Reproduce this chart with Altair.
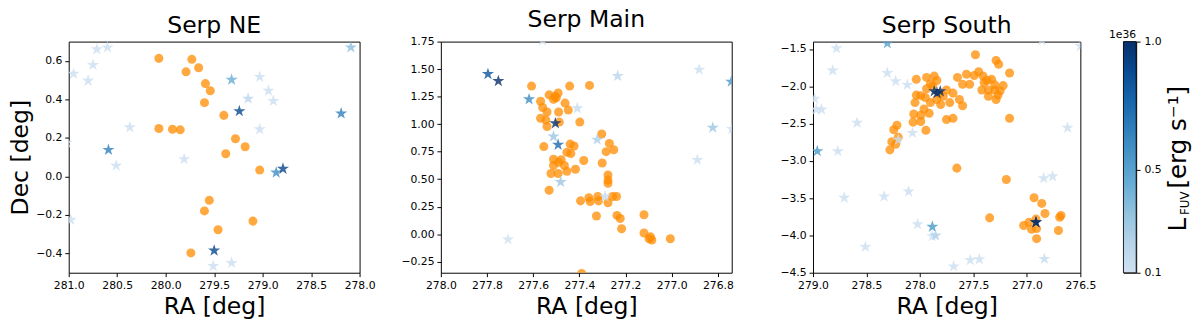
import altair as alt
import pandas as pd

# ---------------- Serp NE ----------------
ne_yso_ra = [280.07, 279.73, 279.66, 279.79, 279.59, 279.54, 279.60, 279.40, 280.07, 279.93,
             279.85, 279.28, 279.18, 279.38, 279.03, 279.55, 279.60, 279.10, 279.46, 279.74]
ne_yso_dec = [0.613, 0.608, 0.564, 0.543, 0.482, 0.445, 0.383, 0.317, 0.249, 0.245,
              0.242, 0.196, 0.154, 0.118, 0.033, -0.124, -0.179, -0.232, -0.277, -0.397]
ne_star_ra = [280.71, 280.60, 280.75, 280.95, 280.80, 278.09, 279.32, 279.03, 278.94, 278.89,
              279.15, 279.24, 278.19, 280.37, 279.03, 281.02, 280.59, 279.81, 280.51, 278.86,
              278.79, 280.98, 279.50, 279.51, 279.32]
ne_star_dec = [0.660, 0.670, 0.579, 0.533, 0.497, 0.670, 0.502, 0.517, 0.445, 0.392,
               0.404, 0.339, 0.327, 0.255, 0.245, 0.175, 0.138, 0.090, 0.056, 0.020,
               0.040, -0.225, -0.385, -0.465, -0.449]
ne_star_lfuv = [0.12, 0.12, 0.12, 0.12, 0.12, 0.35, 0.45, 0.12, 0.12, 0.12,
                0.2, 0.9, 0.65, 0.12, 0.12, 0.12, 0.65, 0.12, 0.12, 0.6,
                0.9, 0.12, 0.9, 0.12, 0.12]

# ---------------- Serp Main ----------------
main_yso_ra = [277.607, 277.442, 277.356, 277.531, 277.506, 277.492, 277.512, 277.500, 277.568, 277.559,
               277.462, 277.540, 277.490, 277.448, 277.568, 277.545, 277.540, 277.487, 277.398, 277.303,
               277.270, 277.251, 277.284, 277.554, 277.440, 277.423, 277.454, 277.437, 277.512, 277.490,
               277.479, 277.465, 277.512, 277.523, 277.492, 277.454, 277.417, 277.381, 277.301, 277.276,
               277.276, 277.531, 277.395, 277.359, 277.353, 277.320, 277.317, 277.256, 277.239, 277.276,
               277.326, 277.237, 277.223, 277.217, 277.120, 277.120, 277.098, 277.086, 277.092, 277.006,
               277.390, 277.276]
main_yso_dec = [1.346, 1.346, 1.352, 1.266, 1.254, 1.283, 1.226, 1.240, 1.208, 1.151,
                1.191, 1.111, 1.111, 1.128, 1.054, 1.037, 0.979, 1.019, 1.019, 0.910,
                0.825, 0.767, 0.750, 0.796, 0.819, 0.802, 0.744, 0.733, 0.681, 0.653,
                0.676, 0.624, 0.624, 0.552, 0.552, 0.572, 0.590, 0.670, 0.647, 0.538,
                0.492, 0.400, 0.303, 0.332, 0.297, 0.343, 0.303, 0.343, 0.343, 0.286,
                0.166, 0.171, 0.143, 0.050, 0.177, 0.011, -0.041, -0.052, -0.024, -0.041,
                -0.356, 0.463]
main_star_ra = [277.796, 277.751, 277.618, 277.234, 276.881, 276.742, 277.409, 277.504, 277.512,
                277.492, 277.323, 276.822, 276.739, 276.889, 277.481, 277.289, 277.709, 277.559]
main_star_dec = [1.455, 1.392, 1.226, 1.438, 1.495, 1.386, 1.145, 1.008, 0.888,
                 0.813, 0.859, 0.968, 0.956, 0.675, 0.475, 0.343, -0.047, 1.759]
main_star_lfuv = [0.85, 1.0, 0.6, 0.2, 0.12, 0.55, 0.15, 1.0, 0.3,
                  0.75, 0.25, 0.3, 0.12, 0.12, 0.3, 0.15, 0.1, 0.1]

# ---------------- Serp South ----------------
south_yso_ra = [277.481, 277.288, 277.264, 277.162, 278.034, 277.938, 277.866, 277.842, 277.902, 277.938,
                277.992, 278.034, 278.046, 277.649, 277.565, 277.493, 277.451, 277.409, 277.372, 277.330,
                277.601, 277.535, 277.421, 277.360, 277.300, 277.270, 277.222, 277.288, 277.360, 277.631,
                277.601, 277.752, 277.691, 277.782, 277.721, 277.806, 277.842, 277.902, 277.962, 277.914,
                277.992, 278.058, 278.064, 277.992, 277.944, 278.215, 278.245, 278.203, 278.263, 278.281,
                278.227, 277.752, 277.691, 277.162, 277.655, 277.192, 276.933, 276.861, 276.831, 277.348,
                277.030, 276.981, 276.957, 276.909, 276.915, 276.705, 276.681, 276.693, 276.909,
                277.880, 277.820, 277.950, 277.300, 277.250, 277.400]
south_yso_dec = [-1.576, -1.652, -1.703, -1.821, -1.906, -1.880, -1.863, -1.922, -1.965, -2.032,
                 -2.125, -2.117, -2.218, -1.880, -1.838, -1.855, -1.804, -1.863, -1.922, -1.906,
                 -1.973, -1.973, -2.049, -2.049, -2.049, -2.117, -1.990, -2.176, -2.134, -2.176,
                 -2.260, -2.049, -2.091, -2.134, -2.218, -2.244, -2.176, -2.218, -2.303, -2.362,
                 -2.387, -2.370, -2.480, -2.472, -2.590, -2.522, -2.582, -2.683, -2.742, -2.852,
                 -2.776, -2.446, -2.429, -2.429, -3.097, -3.249, -3.494, -3.570, -3.705, -3.764,
                 -3.866, -3.824, -3.917, -3.908, -3.781, -3.933, -3.731, -3.756, -4.043,
                 -2.000, -2.100, -2.150, -1.980, -2.060, -1.950]
south_star_ra = [278.305, 278.780, 278.816, 278.305, 278.227, 278.118, 278.985, 278.970, 278.920, 278.588,
                 278.070, 278.203, 278.960, 278.768, 276.620, 276.843, 276.759, 278.708, 278.335, 278.106,
                 278.022, 277.884, 277.884, 277.854, 278.510, 277.685, 277.530, 277.445, 276.837, 276.915,
                 276.915, 277.866, 277.810, 277.840, 276.860, 276.500]
south_star_dec = [-1.424, -1.490, -1.787, -1.821, -1.931, -1.980, -2.167, -2.310, -2.310, -2.489,
                  -2.624, -2.717, -2.869, -2.869, -2.556, -3.232, -3.207, -3.494, -3.477, -3.410,
                  -3.849, -3.883, -4.010, -4.000, -4.153, -4.415, -4.330, -4.320, -4.314, -3.824,
                  -3.824, -2.066, -2.066, -2.090, -1.380, -1.460]
south_star_lfuv = [0.5, 0.12, 0.12, 0.12, 0.12, 0.12, 0.1, 0.1, 0.12, 0.12,
                   0.12, 0.12, 0.55, 0.12, 0.12, 0.12, 0.12, 0.12, 0.12, 0.12,
                   0.12, 0.55, 0.1, 0.25, 0.12, 0.12, 0.12, 0.12, 0.15, 1.0,
                   1.0, 1.0, 1.0, 1.0, 0.12, 0.12]

# ---------------- colour bar ----------------
cbar_domain = [0.1, 0.2125, 0.325, 0.4375, 0.55, 0.6625, 0.775, 0.8875, 1.0]
cbar_colors = ["#d0e1f2", "#b7d4ea", "#94c4df", "#6aaed6", "#4a98c9",
               "#2e7ebc", "#1764ab", "#084a91", "#08306b"]
cbar_ticks = [0.1, 0.5, 1.0]

FONT = "DejaVu Sans"
ORANGE = "#ff8c00"
# five-pointed star as an SVG path in unit coordinates (Vega has no built-in star)
STAR = ("M0,-1L0.2245,-0.309L0.9511,-0.309L0.3633,0.118L0.5878,0.809L0,0.382"
        "L-0.5878,0.809L-0.3633,0.118L-0.9511,-0.309L-0.2245,-0.309Z")
PW, PH = 297, 236
PW3 = 273
CBW = 13

cscale = alt.Scale(domain=cbar_domain, range=cbar_colors)


def panel(name, yso_ra, yso_dec, st_ra, st_dec, st_l, xdom, xticks, ydom, yticks, yfmt, ytitle, w):
    yso = pd.DataFrame({"ra": yso_ra, "dec": yso_dec})
    st = pd.DataFrame({"ra": st_ra, "dec": st_dec, "l": st_l})
    x = alt.X("ra:Q", scale=alt.Scale(domain=xdom, reverse=True, nice=False, zero=False),
              axis=alt.Axis(values=xticks, format=".1f", title="RA [deg]"))
    if ytitle:
        yax = alt.Axis(values=yticks, format=yfmt, title=ytitle)
    else:
        yax = alt.Axis(values=yticks, format=yfmt, title=None)
    y = alt.Y("dec:Q", scale=alt.Scale(domain=ydom, nice=False, zero=False), axis=yax)
    pts = alt.Chart(yso).mark_circle(size=85, color=ORANGE, opacity=0.75, clip=True).encode(x=x, y=y)
    stars = alt.Chart(st).mark_point(shape=STAR, filled=True, size=170, opacity=0.8,
                                     strokeWidth=0, clip=True).encode(
        x=x, y=y, color=alt.Color("l:Q", scale=cscale, legend=None))
    return alt.layer(pts, stars).properties(width=w, height=PH, title=name)


p1 = panel("Serp NE", ne_yso_ra, ne_yso_dec, ne_star_ra, ne_star_dec, ne_star_lfuv,
           [278.0, 281.0], [281.0, 280.5, 280.0, 279.5, 279.0, 278.5, 278.0],
           [-0.5, 0.7], [-0.4, -0.2, 0.0, 0.2, 0.4, 0.6], ".1f", "Dec [deg]", PW)
p2 = panel("Serp Main", main_yso_ra, main_yso_dec, main_star_ra, main_star_dec, main_star_lfuv,
           [276.74, 278.0], [278.0, 277.8, 277.6, 277.4, 277.2, 277.0, 276.8],
           [-0.35, 1.75], [-0.25, 0.0, 0.25, 0.5, 0.75, 1.0, 1.25, 1.5, 1.75], ".2f", None, PW)
p3 = panel("Serp South", south_yso_ra, south_yso_dec, south_star_ra, south_star_dec, south_star_lfuv,
           [276.5, 279.0], [279.0, 278.5, 278.0, 277.5, 277.0, 276.5],
           [-4.5, -1.4], [-4.5, -4.0, -3.5, -3.0, -2.5, -2.0, -1.5], ".1f", None, PW3)

# colour bar as its own small view
cb_df = pd.DataFrame({"lo": [cbar_ticks[0]], "hi": [cbar_ticks[-1]]})
grad = alt.Gradient(gradient="linear", x1=0, x2=0, y1=1, y2=0,
                    stops=[alt.GradientStop(offset=i / (len(cbar_colors) - 1), color=c)
                           for i, c in enumerate(cbar_colors)])
cbar = alt.Chart(cb_df).mark_rect(color=grad, stroke="#000", strokeWidth=0.8).encode(
    y=alt.Y("lo:Q", scale=alt.Scale(domain=[cbar_ticks[0], cbar_ticks[-1]], nice=False, zero=False),
            axis=alt.Axis(orient="right", values=cbar_ticks, format=".1f", title=None,
                          tickSize=4, labelPadding=4)),
    y2="hi:Q")


def txt(s, x, y, size, angle=0, align="left"):
    return alt.Chart(pd.DataFrame({"t": [s]})).mark_text(
        font=FONT, fontSize=size, angle=angle, align=align, baseline="alphabetic", color="#000"
    ).encode(text="t:N", x=alt.value(x), y=alt.value(y))


t_exp = txt("1e36", CBW, -4, 11, align="right")
t_L = txt("L", 64, 194, 25, angle=270)
t_FUV = txt("FUV", 67, 177, 12, angle=270)
t_unit = txt("[erg s\u207b\u00b9]", 64, 150, 25, angle=270)

p4 = alt.layer(cbar, t_exp, t_L, t_FUV, t_unit).properties(width=CBW, height=PH)

left = alt.hconcat(p1, p2, spacing=24)
right = alt.hconcat(p3, p4, spacing=11)
chart = alt.hconcat(left, right, spacing=45).properties(
    padding={"left": 0, "top": -4, "right": 0, "bottom": 0}
).configure_view(stroke="#000", strokeWidth=1).configure_axis(
    domain=False, grid=False, tickColor="#000", tickSize=4, tickWidth=1,
    labelColor="#000", labelFont=FONT, labelFontSize=11, labelPadding=3,
    labelFlush=False, labelOverlap=False,
    titleFont=FONT, titleFontSize=24, titleFontWeight="normal", titleColor="#000",
    titlePadding=3
).configure_axisX(titlePadding=5).configure_title(
    font=FONT, fontSize=24, fontWeight="normal", color="#000", anchor="middle", offset=0)

chart.save("out.html", embed_options={"renderer": "svg", "actions": False})
